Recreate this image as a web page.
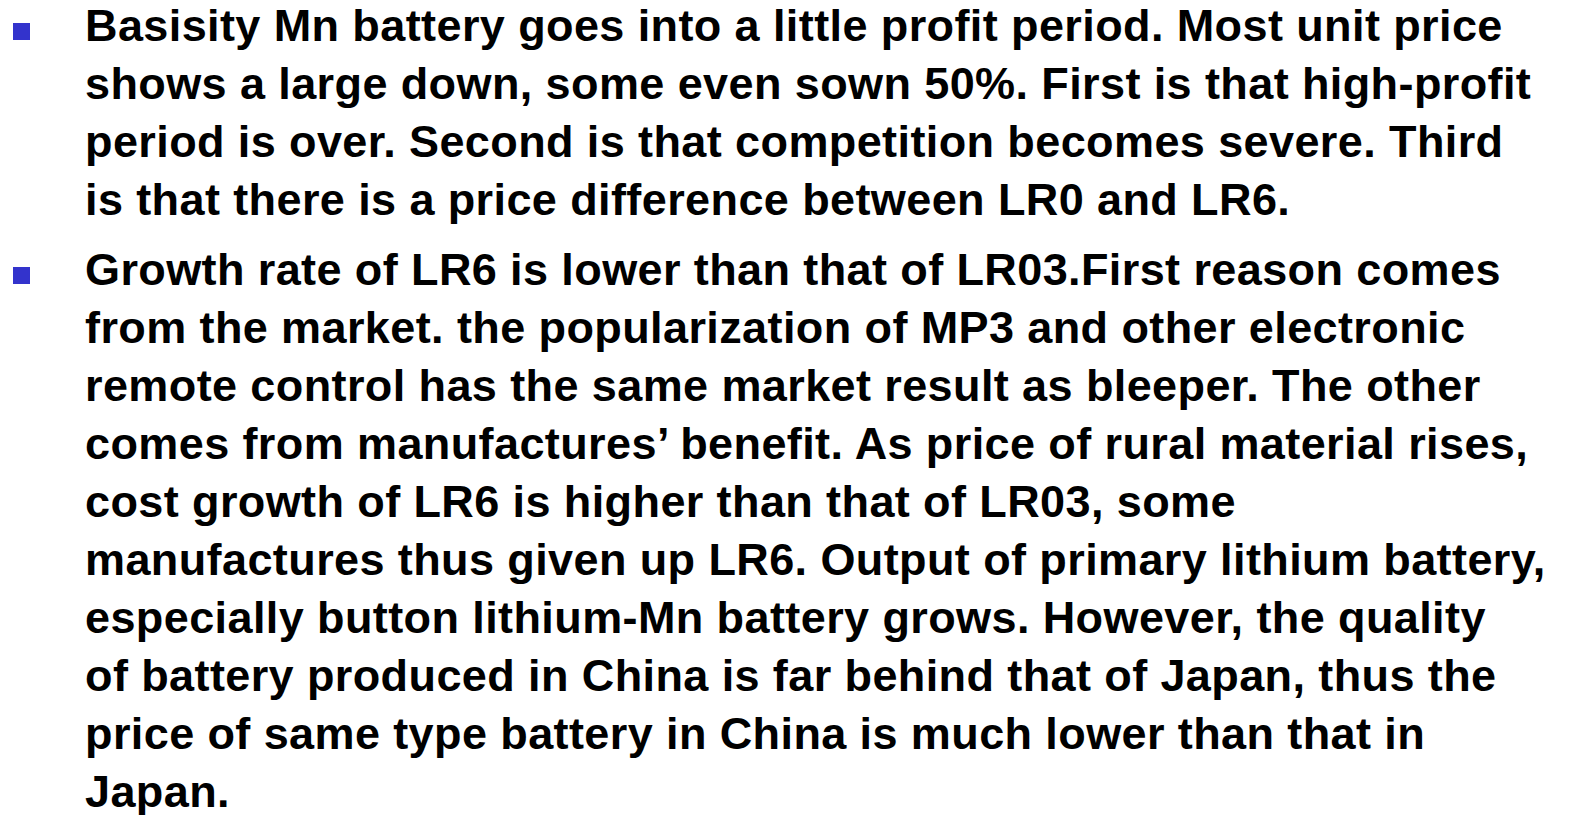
<!DOCTYPE html>
<html>
<head>
<meta charset="utf-8">
<script src="https://cdn.jsdelivr.net/npm/chart.js@4/dist/chart.umd.min.js"></script>
<style>
  html, body { margin: 0; padding: 0; background: #fff; }
  body { width: 1570px; height: 815px; overflow: hidden; position: relative; }
  #slide { position: absolute; left: 0; top: -3px; width: 1570px; }
  .item { position: relative; margin-bottom: 12px; }
  .bullet { position: absolute; left: 13px; top: 26px; width: 17px; height: 17px; background: #3333cc; }
  .line {
    margin-left: 85px;
    font-family: "Liberation Sans", Arial, sans-serif;
    font-weight: bold;
    font-size: 45px;
    letter-spacing: 0.4px;
    line-height: 58px;
    color: #000;
    white-space: nowrap;
  }
</style>
</head>
<body>
<div id="slide"></div>
<script>
// --- Slide text, one array per bullet (line breaks as in the original) ---
const bullet1 = [
  'Basisity Mn battery goes into a little profit period. Most unit price',
  'shows a large down, some even sown 50%. First is that high-profit',
  'period is over. Second is that competition becomes severe. Third',
  'is that there is a price difference between LR0 and LR6.'
];
const bullet2 = [
  'Growth rate of LR6 is lower than that of LR03.First reason comes',
  'from the market. the popularization of MP3 and other electronic',
  'remote control has the same market result as bleeper. The other',
  'comes from manufactures\u2019 benefit. As price of rural material rises,',
  'cost growth of LR6 is higher than that of LR03, some',
  'manufactures thus given up LR6. Output of primary lithium battery,',
  'especially button lithium-Mn battery grows. However, the quality',
  'of battery produced in China is far behind that of Japan, thus the',
  'price of same type battery in China is much lower than that in',
  'Japan.'
];

const slide = document.getElementById('slide');
[bullet1, bullet2].forEach(lines => {
  const item = document.createElement('div');
  item.className = 'item';
  const sq = document.createElement('div');
  sq.className = 'bullet';
  item.appendChild(sq);
  lines.forEach(text => {
    const el = document.createElement('div');
    el.className = 'line';
    el.textContent = text;
    item.appendChild(el);
  });
  slide.appendChild(item);
});
</script>
</body>
</html>
